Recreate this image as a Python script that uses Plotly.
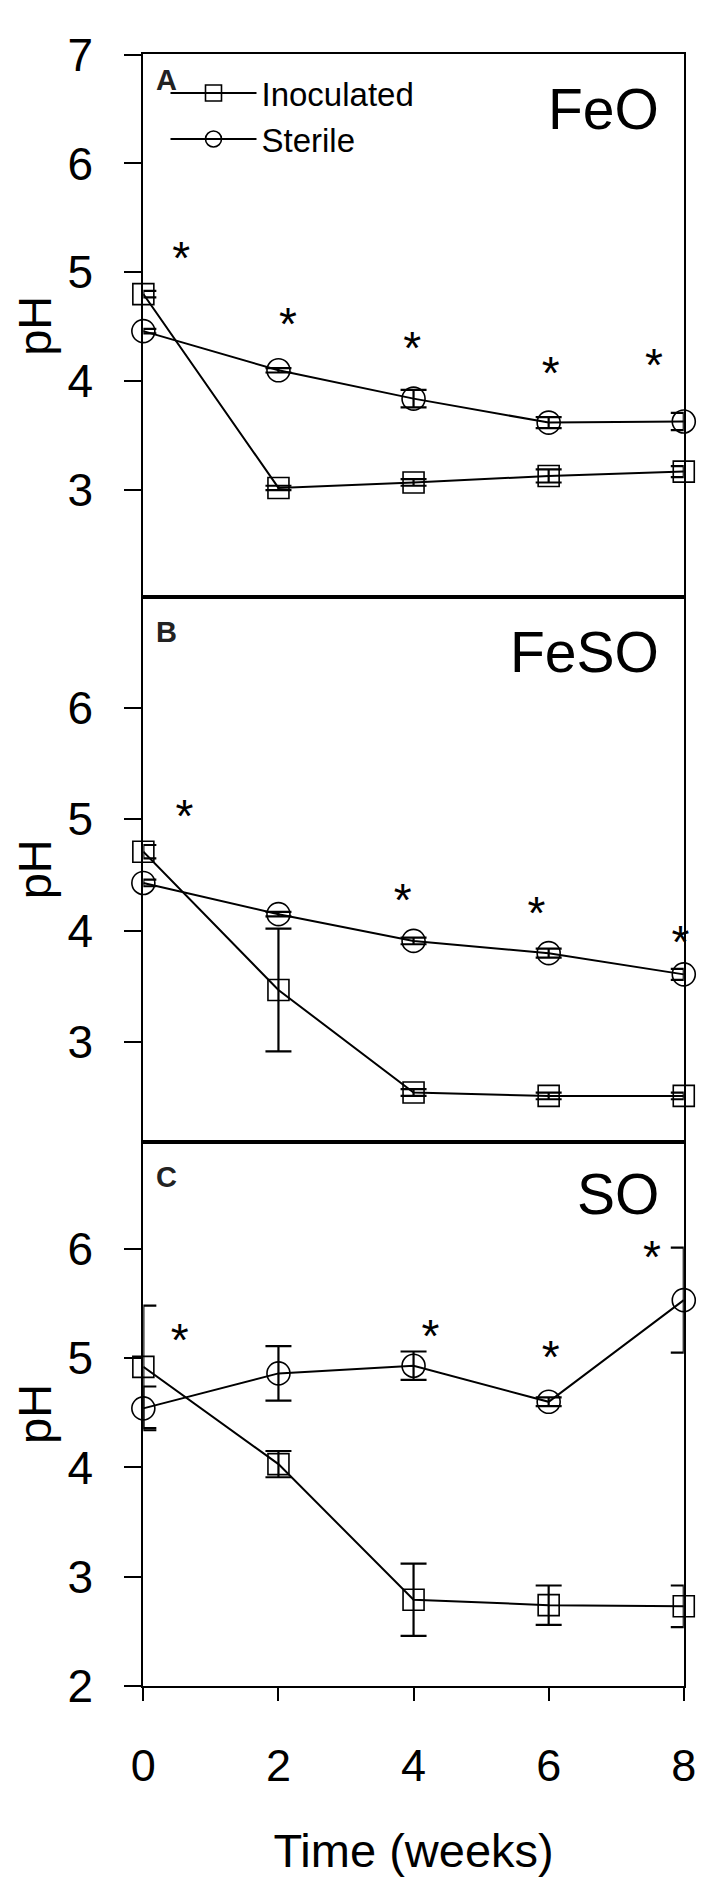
"""pH over time in inoculated vs sterile microcosms, three stacked panels."""
import plotly.graph_objects as go

weeks = [0, 2, 4, 6, 8]

# panel A - FeO
feo_inoc = [4.80, 3.02, 3.07, 3.13, 3.17]
feo_inoc_err = [0.03, 0.02, 0.03, 0.06, 0.05]
feo_ster = [4.46, 4.10, 3.84, 3.62, 3.63]
feo_ster_err = [0.02, 0.02, 0.08, 0.05, 0.08]
feo_star_x = [0.56, 2.14, 3.98, 6.03, 7.56]
feo_star_y = [5.09, 4.48, 4.26, 4.03, 4.11]

# panel B - FeSO
feso_inoc = [4.71, 3.47, 2.55, 2.52, 2.52]
feso_inoc_err = [0.06, 0.55, 0.03, 0.03, 0.03]
feso_ster = [4.43, 4.15, 3.91, 3.80, 3.61]
feso_ster_err = [0.03, 0.02, 0.03, 0.04, 0.05]
feso_star_x = [0.61, 3.84, 5.82, 7.95]
feso_star_y = [4.99, 4.24, 4.12, 3.86]

# panel C - SO
so_inoc = [4.92, 4.03, 2.79, 2.74, 2.73]
so_inoc_err = [0.56, 0.12, 0.33, 0.18, 0.19]
so_ster = [4.54, 4.86, 4.93, 4.60, 5.53]
so_ster_err = [0.20, 0.25, 0.13, 0.04, 0.48]
so_star_x = [0.54, 4.25, 6.03, 7.53]
so_star_y = [5.12, 5.16, 4.97, 5.88]

panels = [
    ("A", 6.77, "FeO", feo_inoc, feo_inoc_err, feo_ster, feo_ster_err, feo_star_x, feo_star_y),
    ("B", 6.68, "FeSO", feso_inoc, feso_inoc_err, feso_ster, feso_ster_err, feso_star_x, feso_star_y),
    ("C", 6.66, "SO", so_inoc, so_inoc_err, so_ster, so_ster_err, so_star_x, so_star_y),
]

W, H = 709, 1887
FONT = "Liberation Sans, Arial, sans-serif"
x_dom = [127 / W, 688 / W]
y_doms = [[1 - 579 / H, 1 - 21 / H], [1 - 1139 / H, 1 - 579 / H], [1 - 1699 / H, 1 - 1139 / H]]
y_ranges = [[2.018, 7.001], [2.11, 6.994], [1.999, 6.98]]

fig = go.Figure()

for i, (letter, letter_y, name, inoc, inoc_err, ster, ster_err, sx, sy) in enumerate(panels):
    n = "" if i == 0 else str(i + 1)
    xa, ya = "x" + n, "y" + n
    err_style = dict(type="data", thickness=2.2, width=13, color="black")
    fig.add_trace(go.Scatter(
        x=weeks, y=inoc, xaxis=xa, yaxis=ya, mode="lines+markers", name="Inoculated",
        legendgroup="inoc", showlegend=(i == 0), cliponaxis=False,
        line=dict(color="black", width=2),
        marker=dict(symbol="square-open", size=21, color="black", line=dict(width=1.6)),
        error_y=dict(array=inoc_err, **err_style),
    ))
    fig.add_trace(go.Scatter(
        x=weeks, y=ster, xaxis=xa, yaxis=ya, mode="lines+markers", name="Sterile",
        legendgroup="ster", showlegend=(i == 0), cliponaxis=False,
        line=dict(color="black", width=2),
        marker=dict(symbol="circle-open", size=23, color="black", line=dict(width=1.6)),
        error_y=dict(array=ster_err, **err_style),
    ))
    fig.add_trace(go.Scatter(
        x=sx, y=sy, xaxis=xa, yaxis=ya, mode="text", text=["*"] * len(sx),
        showlegend=False, cliponaxis=False,
        textfont=dict(family=FONT, size=46, color="black"),
    ))
    fig.add_annotation(xref=xa, yref=ya, x=0.16, y=letter_y, text="<b>" + letter + "</b>",
                       showarrow=False, xanchor="left", yanchor="middle",
                       font=dict(family=FONT, size=29, color="#222222"))
    fig.add_annotation(xref=xa, yref=ya, x=7.66, y=6.5, text=name,
                       showarrow=False, xanchor="right", yanchor="middle",
                       font=dict(family=FONT, size=57, color="black"))

    bottom = i == 2
    fig.update_layout({
        "xaxis" + n: dict(
            domain=x_dom, anchor=ya, range=[0, 8], tickvals=weeks,
            showticklabels=bottom, ticks="outside" if bottom else "",
            ticklen=13, tickwidth=2, tickcolor="black",
            showline=True, mirror=True, linecolor="black", linewidth=2,
            showgrid=False, zeroline=False, ticklabelstandoff=26,
            tickfont=dict(family=FONT, size=45, color="black"),
            title=dict(text="Time (weeks)" if bottom else "", standoff=44,
                       font=dict(family=FONT, size=47, color="black")),
        ),
        "yaxis" + n: dict(
            domain=y_doms[i], anchor=xa, range=y_ranges[i], dtick=1,
            ticks="outside", ticklen=17, tickwidth=2, tickcolor="black",
            showline=True, mirror=True, linecolor="black", linewidth=2,
            showgrid=False, zeroline=False, ticklabelstandoff=22,
            ticklabeloverflow="allow",
            tickfont=dict(family=FONT, size=46, color="black"),
            title=dict(text="pH", standoff=16,
                       font=dict(family=FONT, size=47, color="black")),
        ),
    })

fig.update_layout(
    width=W, height=H,
    margin=dict(l=0, r=0, t=0, b=0),
    paper_bgcolor="white", plot_bgcolor="white",
    legend=dict(x=150 / W, y=1 - 32 / H, xanchor="left", yanchor="top",
                bgcolor="rgba(0,0,0,0)", itemwidth=86, tracegroupgap=0,
                font=dict(family=FONT, size=33, color="black")),
)

fig.write_html("out.html")
